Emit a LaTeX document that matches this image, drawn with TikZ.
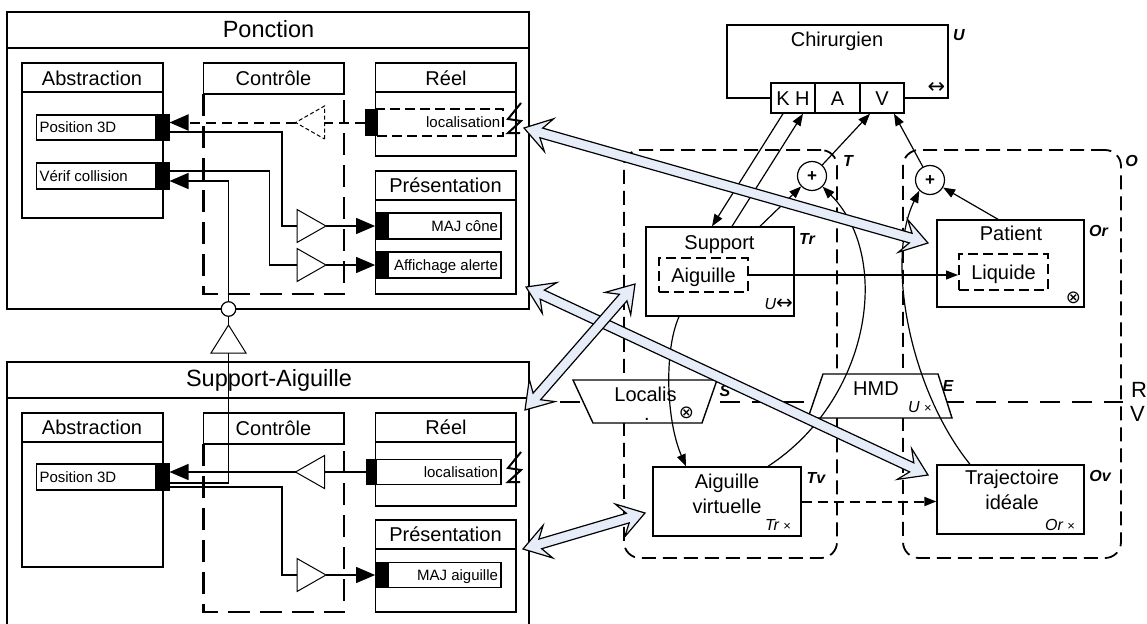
\documentclass[tikz,border=0pt]{standalone}
\usepackage{fontspec}
\setmainfont{Liberation Sans}
\newfontfamily\symbfont{DejaVu Sans}
\usetikzlibrary{calc,fit,arrows.meta}

\definecolor{bleupale}{RGB}{230,237,248}

% amplificateur (triangle ouvert)
\tikzset{ampli/.pic={
    \draw[line width=1pt, fill=white] (0,-16.5) -- (0,16.5) -- (29,0) -- cycle;
    \coordinate (-in) at (0,0);
    \coordinate (-out) at (29,0);}}

% grosse fleche bleue a deux pointes
\newcommand{\fleche}[2]{%
  \filldraw[fill=bleupale, draw=black, line width=1.2pt]
    (#1) -- ($(#1)!26pt!(#2)!17pt!90:(#2)$) -- ($(#1)!18pt!(#2)!5pt!90:(#2)$)
    -- ($(#2)!18pt!(#1)!5pt!-90:(#1)$) -- ($(#2)!26pt!(#1)!17pt!-90:(#1)$)
    -- (#2) -- ($(#2)!26pt!(#1)!17pt!90:(#1)$) -- ($(#2)!18pt!(#1)!5pt!90:(#1)$)
    -- ($(#1)!18pt!(#2)!5pt!-90:(#2)$) -- ($(#1)!26pt!(#2)!17pt!-90:(#2)$) -- cycle;}

\begin{document}
\begin{tikzpicture}[x=1pt,y=-1pt,
    every node/.style={inner sep=0pt, font=\fontsize{20}{22}\selectfont, text height=14.4pt, text depth=0pt},
    cadre/.style={draw, line width=2pt},
    boite/.style={draw, line width=1.4pt},
    boitep/.style={draw, line width=2pt, dash pattern=on 10pt off 5pt},
    prise/.style={draw, fill=black, line width=1pt},
    petit/.style={font=\fontsize{15}{17}\selectfont, text height=10.8pt, inner sep=3.5pt},
    titre/.style={font=\fontsize{23.5}{26}\selectfont, text height=16.9pt},
    etiq/.style={font=\fontsize{16}{18}\selectfont\bfseries\itshape, text height=11.5pt},
    note/.style={font=\fontsize{16}{18}\selectfont\itshape, text height=11.5pt},
    deuxlignes/.style={align=center, font=\fontsize{20}{24.5}\selectfont, text height={}, text depth={}},
    signe/.style={font=\symbfont\fontsize{18}{18}\selectfont, text height={}, text depth={}},
    plus/.style={draw, circle, line width=1.2pt, minimum size=29pt, fill=white, font=\fontsize{17}{17}\selectfont\bfseries, text height=10.4pt},
    lien/.style={line width=1.2pt},
    grosse/.style={-{Triangle[length=19pt,width=16pt]}},
    petite/.style={-{Triangle[length=12pt,width=9pt]}},
    tirets/.style={line width=2.4pt, dash pattern=on 22pt off 10pt},
    pointilles/.style={line width=2pt, dash pattern=on 10pt off 6pt},
    zone/.style={draw, line width=1.8pt, dash pattern=on 14pt off 7pt, rounded corners=16pt}]
\useasboundingbox (0,0) rectangle (1147,623);

%%%% Ponction
\node[cadre, fit={(7.4,12) (529,309)}] (ponction) {};
\draw[cadre] (7.4,48) -- (529,48);
\node[titre] (tponction) at (268.5,29) {Ponction};

\node[boite, fit={(22,63) (163,218)}] (abs1) {};
\draw[boite] (22,92) -- (163,92);
\node (tabs1) at (92,78) {Abstraction};
\node[boite, fit={(36.5,115) (169,140)}, label={[petit, anchor=west]west:Position 3D}] (pos1) {};
\node[prise, fit={(155,115) (169,140)}] (ppos1) {};
\node[boite, fit={(36.5,163) (169,189)}, label={[petit, anchor=west]west:Vérif collision}] (ver1) {};
\node[prise, fit={(155,163) (169,189)}] (pver1) {};

\node[boite, fit={(203.5,63) (344,94)}] (ctl1) {};
\node (tctl1) at (273.5,78) {Contrôle};
\draw[tirets] (203.5,94) -- (203.5,294) -- (344,294) -- (344,94);

\node[boite, fit={(375.6,63) (516,156)}] (reel1) {};
\draw[boite] (375.6,92) -- (516,92);
\node (treel1) at (446,78) {Réel};
\node[boitep, fit={(377,109.5) (503,135.5)}, label={[petit, anchor=east]east:localisation}] (loc1) {};
\node[prise, fit={(365,109.5) (377,135.5)}] (ploc1) {};

\node[boite, fit={(375.6,171) (516,294)}] (pres1) {};
\draw[boite] (375.6,200) -- (516,200);
\node (tpres1) at (445.5,185) {Présentation};
\node[boite, fit={(375.6,213) (501,239)}, label={[petit, anchor=east]east:MAJ cône}] (maj1) {};
\node[prise, fit={(375.6,213) (388,239)}] (pmaj1) {};
\node[boite, fit={(375.6,252) (501,278)}, label={[petit, anchor=east]east:Affichage alerte}] (afi1) {};
\node[prise, fit={(375.6,252) (388,278)}] (pafi1) {};

\pic[rotate=180, dash pattern=on 4pt off 2.5pt] (amp1) at (324.5,122.5) {ampli};
\pic (amp2) at (297,226) {ampli};
\pic (amp3) at (297,265) {ampli};
\draw[pointilles] (ploc1.west) -- (amp1-in);
\draw[pointilles, grosse] (amp1-out) -- ([yshift=5pt]ppos1.east);
\draw[lien] ([yshift=-4.5pt]ppos1.east) -| ([xshift=-15pt]amp2-in) -- (amp2-in);
\draw[lien, grosse] (amp2-out) -- (pmaj1.west);
\draw[lien] ([yshift=5pt]pver1.east) -| ([xshift=-27.5pt]amp3-in) -- (amp3-in);
\draw[lien, grosse] (amp3-out) -- (pafi1.west);

%%%% Support-Aiguille
\node[cadre, fit={(7.4,362) (529,660)}] (supaig) {};
\draw[cadre] (7.4,398) -- (529,398);
\node[titre] (tsupaig) at (269,378) {Support-Aiguille};

\node[boite, fit={(22,413) (163,567)}] (abs2) {};
\draw[boite] (22,442) -- (163,442);
\node (tabs2) at (92,427.5) {Abstraction};
\node[boite, fit={(36.5,464) (169,490)}, label={[petit, anchor=west]west:Position 3D}] (pos2) {};
\node[prise, fit={(155,464) (169,490)}] (ppos2) {};

\node[boite, fit={(203.5,413) (344,444)}] (ctl2) {};
\node (tctl2) at (273.5,428) {Contrôle};
\draw[tirets] (203.5,444) -- (203.5,612) -- (344,612) -- (344,444);

\node[boite, fit={(375.6,413) (516,506)}] (reel2) {};
\draw[boite] (375.6,442) -- (516,442);
\node (treel2) at (446,427.5) {Réel};
\node[boite, fit={(375.6,459.5) (501,484.5)}, label={[petit, anchor=east]east:localisation}] (loc2) {};
\node[prise, fit={(366,459.5) (376,484.5)}] (ploc2) {};

\node[boite, fit={(375.6,520) (516,612)}] (pres2) {};
\draw[boite] (375.6,549) -- (516,549);
\node (tpres2) at (445.5,534) {Présentation};
\node[boite, fit={(375.6,562.5) (501,587.5)}, label={[petit, anchor=east]east:MAJ aiguille}] (maj2) {};
\node[prise, fit={(375.6,562.5) (388,587.5)}] (pmaj2) {};

\pic[rotate=180] (amp4) at (324.5,472) {ampli};
\pic (amp5) at (297,575) {ampli};
\draw[lien] (ploc2.west) -- (amp4-in);
\draw[lien, grosse] (amp4-out) -- ([yshift=5pt]ppos2.east);
\draw[lien] ([yshift=-10pt]ppos2.east) -| ([xshift=-15pt]amp5-in) -- (amp5-in);
\draw[lien, grosse] (amp5-out) -- (pmaj2.west);

% capteurs
\foreach \dy in {0,349}
  \draw[line width=2pt, line join=miter, shift={(0,\dy)}] (521,103) -- (508,119) -- (521,121) -- (508,133) -- (520,133);

% heritage
\coordinate (heritA) at (228.5,325);
\coordinate (heritB) at (228.5,353);
\node[draw, circle, lien, minimum size=14.6pt, fill=white] (rond) at (228.5,309) {};
\draw[lien] ([yshift=-6pt]ppos2.east) -| (heritB);
\draw[line width=1pt, fill=white] (211,353) -- (246,353) -- (heritA) -- cycle;
\draw[lien] (heritA) -- (rond);
\draw[lien, grosse] (rond.north) |- ([yshift=-5pt]pver1.east);

%%%% zones T et O, separation R / V
\node[zone, fit={(624,150) (837,558)}] (zoneT) {};
\node[zone, fit={(903,150) (1121,558)}] (zoneO) {};
\node[etiq] (lT) at (848,161) {T};
\node[etiq] (lO) at (1131.5,161) {O};
\draw[line width=2.5pt, dash pattern=on 20pt off 12pt] (560,402) -- (1123,402);
\node[anchor=west, font=\fontsize{22}{24}\selectfont, text height=15.8pt] (lR) at (1131,389.5) {R};
\node[anchor=west, font=\fontsize{22}{24}\selectfont, text height=15.8pt] (lV) at (1130,413.5) {V};

% Localisation et HMD
\filldraw[boite, fill=white] (573,380) -- (717,380) -- (702,423) -- (593,423) -- cycle;
\node (tloc) at (645.5,394.5) {Localis};
\node[anchor=base] (tpoint) at (647,420) {.};
\node[signe] (oloc) at (686.5,413) {⊗};
\node[etiq] (lS) at (725,390.5) {S};
\filldraw[boite, fill=white] (823,374) -- (938,374) -- (952,418) -- (808,418) -- cycle;
\node (thmd) at (876,388.5) {HMD};
\node[etiq] (lE) at (948,386) {E};
\node[note] (lUx) at (920,407) {U {\upshape\fontsize{13}{13}\selectfont ×}};

%%%% Chirurgien
\node[boite, fit={(727,25) (948,98)}] (chir) {};
\node (tchir) at (837,39) {Chirurgien};
\node[boite, fill=white, fit={(771,83) (815,113)}, label={center:K H}] (kh) {};
\node[boite, fill=white, fit={(815,83) (860,113)}, label={center:A}] (a) {};
\node[boite, fill=white, fit={(860,83) (904,113)}, label={center:V}] (v) {};
\node[etiq] (lU) at (959,34.5) {U};
\node[signe, font=\symbfont\fontsize{21}{21}\selectfont] (dbl) at (936.5,88) {↔};

%%%% objets reels / virtuels
\node[boite, fill=white, fit={(646,227) (794,316)}] (support) {};
\node (tsupport) at (719.5,242) {Support};
\node[boitep, fit={(659,258) (748,292)}, label={center:Aiguille}] (aig) {};
\node[etiq] (lTr) at (807,238.5) {Tr};
\node[note, anchor=east] (lUs) at (793,304) {U{\symbfont\fontsize{20}{20}\selectfont ↔}};

\node[boite, fill=white, fit={(937,220) (1084,307)}] (patient) {};
\node (tpatient) at (1011,233.5) {Patient};
\node[boitep, fit={(959,254) (1048,290)}, label={center:Liquide}] (liq) {};
\node[etiq] (lOr) at (1098.5,230.5) {Or};
\node[signe] (opat) at (1073.5,297.5) {⊗};

\node[boite, fill=white, fit={(653,467) (801,536)}] (aigv) {};
\node[deuxlignes, anchor=north] (taigv) at (727,474) {Aiguille\\virtuelle};
\node[etiq] (lTv) at (816,477.5) {Tv};
\node[note] (lTrx) at (778,525) {Tr {\upshape\fontsize{13}{13}\selectfont ×}};

\node[boite, fill=white, fit={(937,465) (1084,534)}] (traj) {};
\node[deuxlignes, anchor=north] (ttraj) at (1012,470) {Trajectoire\\idéale};
\node[etiq] (lOv) at (1100,476) {Ov};
\node[note] (lOrx) at (1060,525) {Or {\upshape\fontsize{13}{13}\selectfont ×}};

\node[plus] (plusT) at (812,176) {+};
\node[plus] (plusO) at (930,180) {+};

% liens
\draw[lien, petite] ([xshift=-10pt]kh.south) -- ([xshift=-8pt]support.north);
\draw[lien, petite] ([xshift=12pt]support.north) -- ([xshift=10pt]kh.south);
\draw[lien, petite] ([xshift=40pt]support.north) -- (plusT);
\draw[lien, petite] (plusT) -- ([xshift=-12pt]v.south);
\draw[lien, petite] (plusO) -- ([xshift=12pt]v.south);
\draw[lien, petite] ([xshift=-12.5pt]patient.north) -- (plusO);
\draw[lien, petite] (aig.east) -- (aig.east -| liq.west);
\draw[pointilles, petite] (aigv.east) -- (aigv.east -| traj.west);
\draw[lien, petite] ([xshift=-41pt]support.south) .. controls (664,350) and (666,420) .. ([xshift=-41pt]aigv.north);
\draw[lien, petite] ([xshift=41pt]aigv.north) .. controls (870,400) and (893,258) .. (plusT.south east);
\draw[lien, petite] ([xshift=-40.5pt]traj.north) .. controls (910,390) and (885,260) .. (plusO.south west);

%%%% grosses fleches
\coordinate (fl1a) at (524,128); \coordinate (fl1b) at (928,243);
\coordinate (fl2a) at (526,287); \coordinate (fl2b) at (928,475);
\coordinate (fl3a) at (525,410); \coordinate (fl3b) at (635,284);
\coordinate (fl4a) at (523,549); \coordinate (fl4b) at (645,513);
\fleche{fl1a}{fl1b}
\fleche{fl2a}{fl2b}
\fleche{fl3a}{fl3b}
\fleche{fl4a}{fl4b}
\end{tikzpicture}
\end{document}
